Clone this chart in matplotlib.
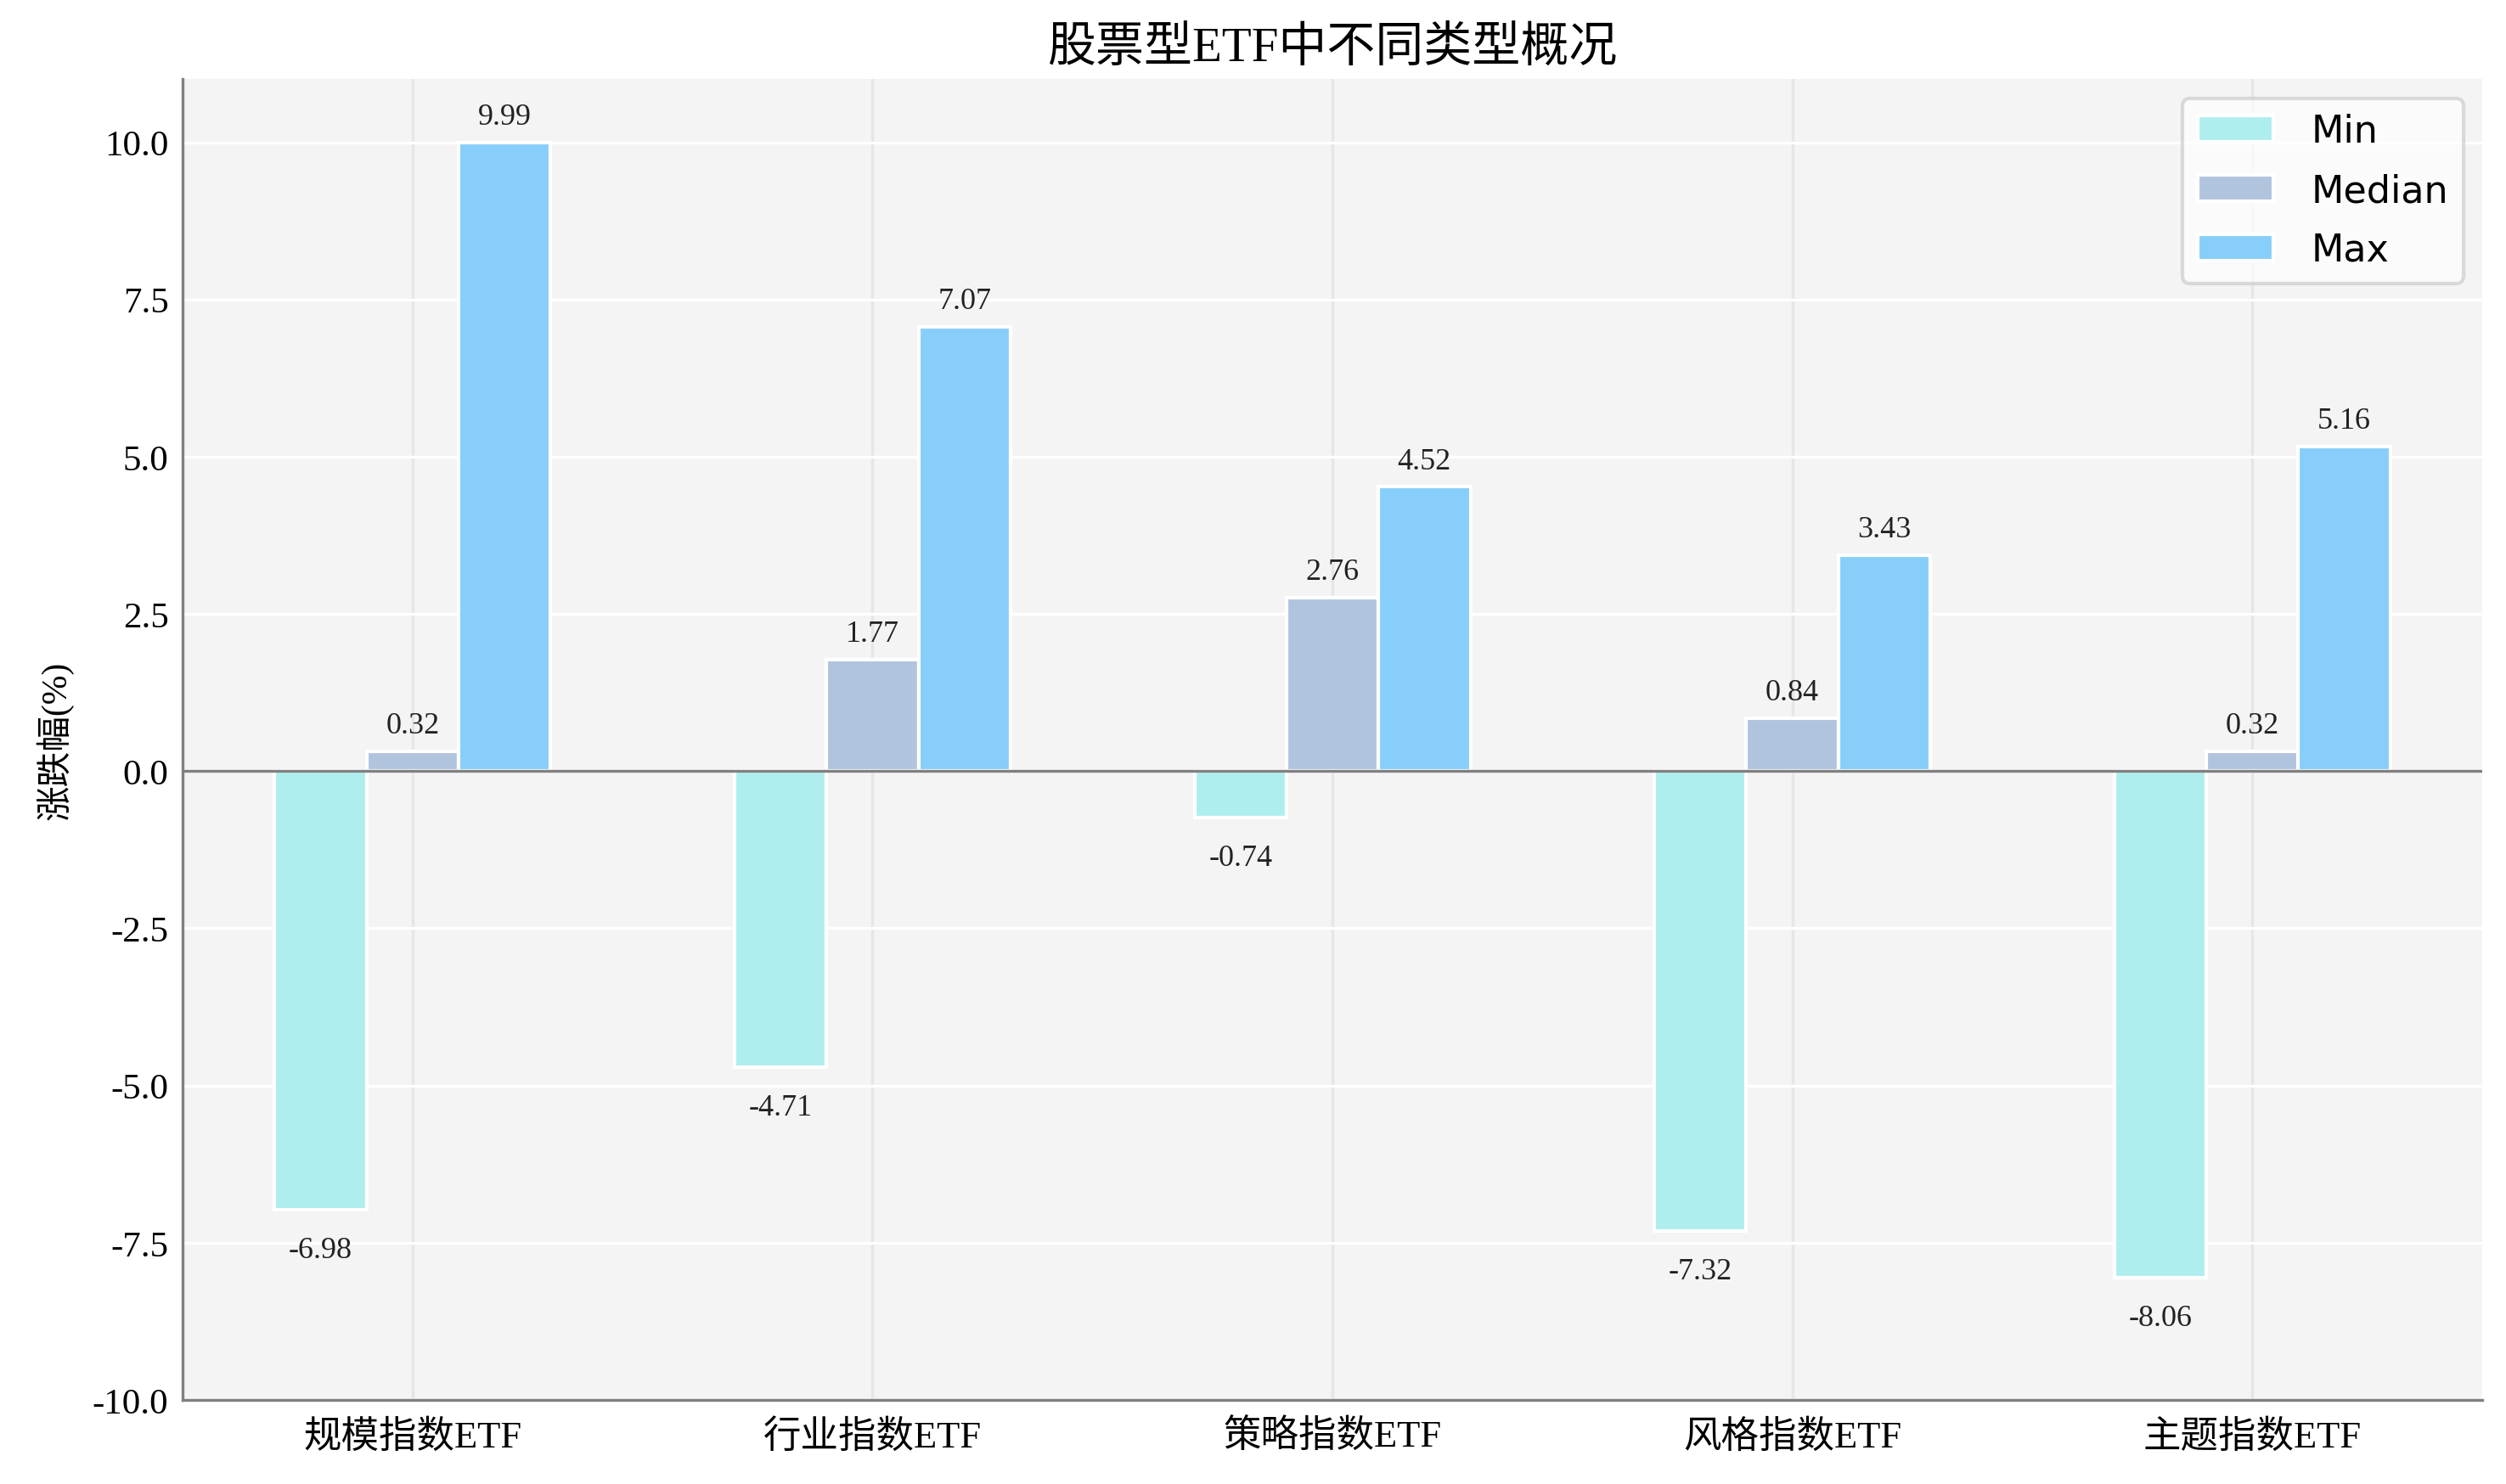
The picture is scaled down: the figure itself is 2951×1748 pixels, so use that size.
import matplotlib
matplotlib.use('Agg')
import matplotlib.pyplot as plt
import numpy as np

plt.rcParams['font.family'] = ['Liberation Serif', 'Noto Sans CJK SC', 'DejaVu Sans']
plt.rcParams['axes.unicode_minus'] = False

categories = ['规模指数ETF', '行业指数ETF', '策略指数ETF', '风格指数ETF', '主题指数ETF']
min_vals = [-6.98, -4.71, -0.74, -7.32, -8.06]
median_vals = [0.32, 1.77, 2.76, 0.84, 0.32]
max_vals = [9.99, 7.07, 4.52, 3.43, 5.16]
series_names = ['Min', 'Median', 'Max']
colors = ['paleturquoise', 'lightsteelblue', 'lightskyblue']

fig, ax = plt.subplots(figsize=(14.755, 8.745), dpi=200)
fig.subplots_adjust(left=0.0729, right=0.9905, top=0.946, bottom=0.0566)
ax.set_facecolor('#f4f4f4')

x = np.arange(len(categories))
w = 0.2
for i, (name, vals) in enumerate(zip(series_names, [min_vals, median_vals, max_vals])):
    bars = ax.bar(x + (i - 1) * w, vals, w, color=colors[i], edgecolor='white',
                  linewidth=1.5, label=name, zorder=3)
    for b, v in zip(bars, vals):
        if v >= 0:
            ax.annotate(f'{v:.2f}', (b.get_x() + b.get_width() / 2, v), xytext=(0, 5),
                        textcoords='offset points', ha='center', va='bottom', fontsize=13, color='#222222')
        else:
            ax.annotate(f'{v:.2f}', (b.get_x() + b.get_width() / 2, v), xytext=(0, -11),
                        textcoords='offset points', ha='center', va='top', fontsize=13, color='#222222')

ax.axhline(0, color='gray', linewidth=1.2, zorder=4)
ax.set_xlim(-0.5, 4.5)
ax.set_ylim(-10, 11)
ax.set_yticks(np.arange(-10, 10.1, 2.5))
ax.set_xticks(x)
ax.set_xticklabels(categories, fontsize=16)
ax.tick_params(axis='y', labelsize=15.5, length=0, pad=6)
ax.tick_params(axis='x', length=0, pad=8)
ax.yaxis.grid(True, color='white', linewidth=1.2, zorder=0)
ax.xaxis.grid(True, color='#e6e6e6', linewidth=1.2, zorder=0)
ax.set_axisbelow(True)
for s in ['top', 'right']:
    ax.spines[s].set_visible(False)
for s in ['left', 'bottom']:
    ax.spines[s].set_color('gray')
    ax.spines[s].set_linewidth(1.2)

ax.set_ylabel('涨跌幅(%)', fontsize=15, labelpad=8)
ax.set_title('股票型ETF中不同类型概况', fontsize=20.5, pad=8)
leg = ax.legend(loc='upper right', prop={'family': 'DejaVu Sans', 'size': 16}, framealpha=0.7,
                edgecolor='#cccccc', fancybox=True, handletextpad=1.0, labelspacing=0.6)
leg.get_frame().set_linewidth(1.5)

fig.savefig('out.png', dpi=200)
